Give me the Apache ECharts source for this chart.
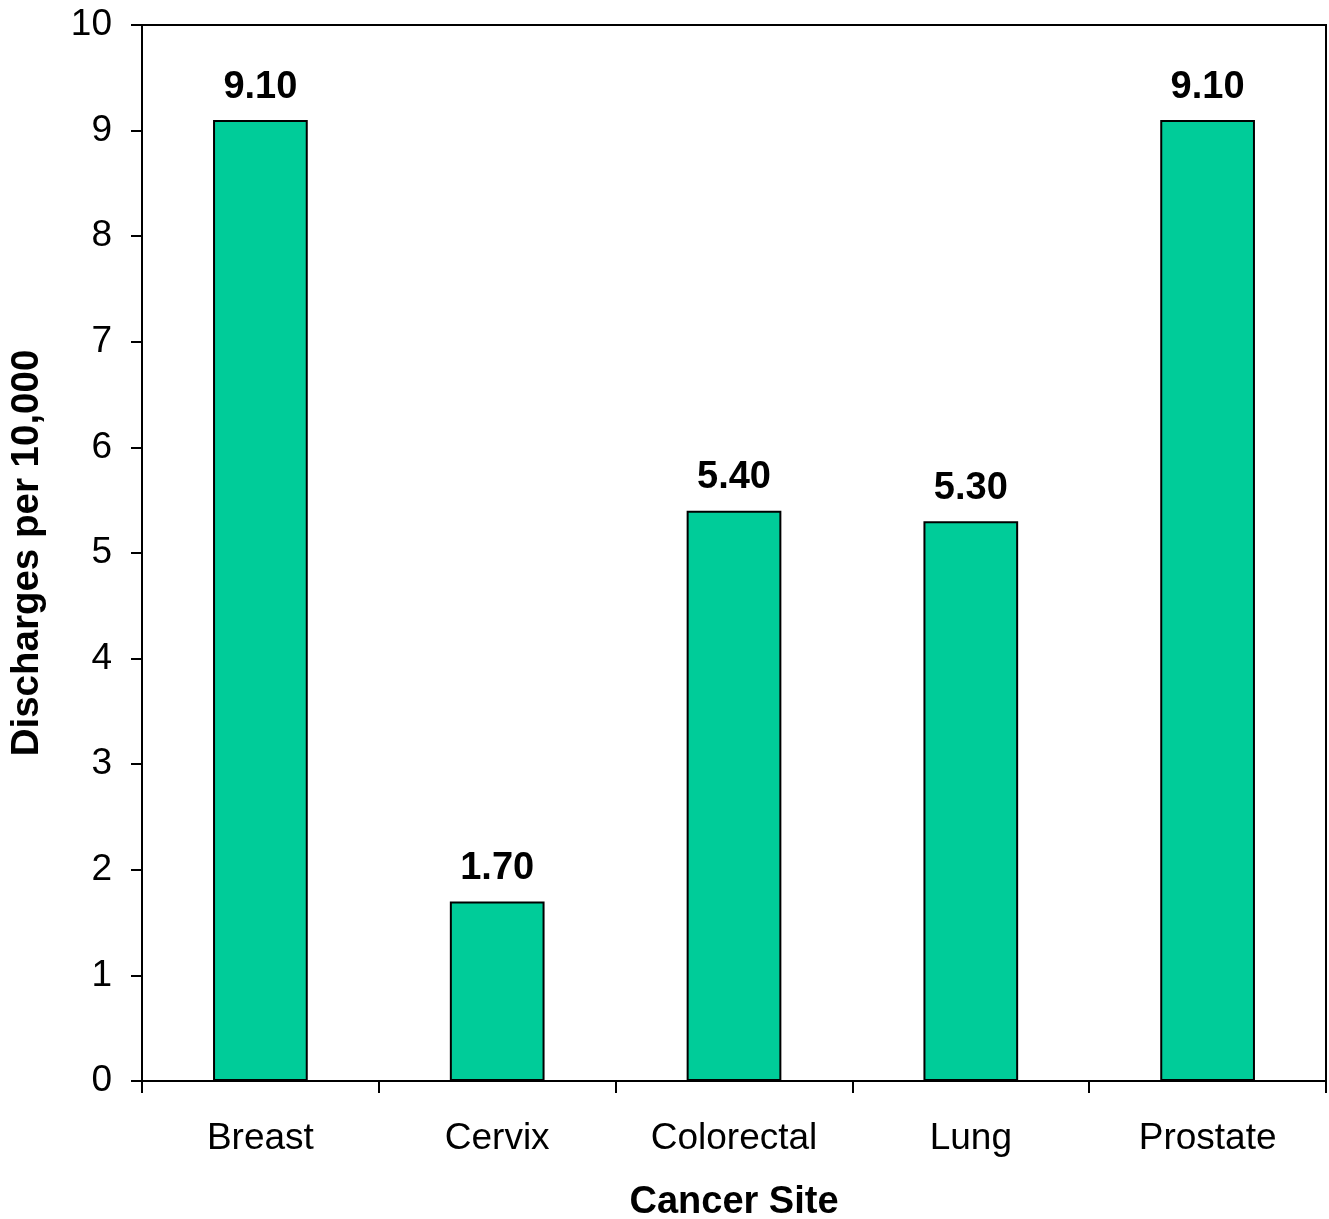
<!DOCTYPE html>
<html>
<head>
<meta charset="utf-8">
<script src="https://cdn.jsdelivr.net/npm/echarts@6/dist/echarts.min.js"></script>
<style>
html,body{margin:0;padding:0;background:#fff;overflow:hidden;}
#chart{width:1329px;height:1219px;}
</style>
</head>
<body>
<div id="chart"></div>
<script>
const categories = ["Breast", "Cervix", "Colorectal", "Lung", "Prostate"];
const values = [9.10, 1.70, 5.40, 5.30, 9.10];
const yTicks = [0, 1, 2, 3, 4, 5, 6, 7, 8, 9, 10];

const font = '"Liberation Sans", Arial, sans-serif';
const chart = echarts.init(document.getElementById('chart'));
chart.setOption({
  backgroundColor: '#ffffff',
  animation: false,
  grid: {
    left: 142, right: 3, top: 25, bottom: 138,
    outerBoundsMode: 'none',
    containLabel: false,
    show: true, borderColor: '#000', borderWidth: 2, backgroundColor: 'transparent'
  },
  xAxis: {
    type: 'category',
    data: categories,
    name: 'Cancer Site',
    nameLocation: 'middle',
    nameGap: 103,
    nameTextStyle: { fontFamily: font, fontSize: 38, fontWeight: 'bold', color: '#000' },
    axisLine: { lineStyle: { color: '#000', width: 2 } },
    axisTick: { show: true, length: 12, inside: false, lineStyle: { color: '#000', width: 2 } },
    axisLabel: { fontFamily: font, fontSize: 37, color: '#000', margin: 39 },
    splitLine: { show: false }
  },
  yAxis: {
    type: 'value',
    min: yTicks[0],
    max: yTicks[yTicks.length - 1],
    interval: 1,
    name: 'Discharges per 10,000',
    nameLocation: 'middle',
    nameGap: 95,
    nameTextStyle: { fontFamily: font, fontSize: 38.5, fontWeight: 'bold', color: '#000' },
    axisLine: { show: true, lineStyle: { color: '#000', width: 2 } },
    axisTick: { show: true, length: 11, inside: false, lineStyle: { color: '#000', width: 2 } },
    axisLabel: { fontFamily: font, fontSize: 37, color: '#000', margin: 30 },
    splitLine: { show: false }
  },
  series: [{
    type: 'bar',
    data: values,
    barWidth: '40%',
    itemStyle: { color: '#00CC99', borderColor: '#000', borderWidth: 2 },
    label: {
      show: true,
      position: 'top',
      distance: 14,
      formatter: p => p.value.toFixed(2),
      fontFamily: font, fontSize: 38, fontWeight: 'bold', color: '#000'
    }
  }]
});
</script>
</body>
</html>
